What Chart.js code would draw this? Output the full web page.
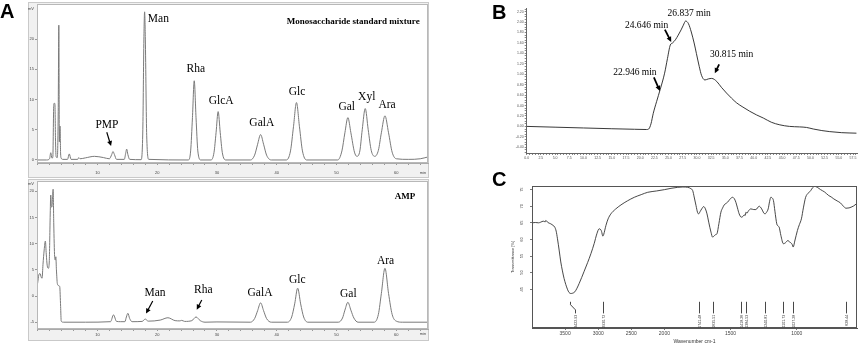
<!DOCTYPE html>
<html><head><meta charset="utf-8">
<script src="https://cdn.jsdelivr.net/npm/chart.js@4.4.1/dist/chart.umd.min.js"></script>
<style>
html,body{margin:0;padding:0;background:#fff;}
#wrap{position:relative;width:858px;height:345px;overflow:hidden;background:#fff;}
canvas{position:absolute;}
.lbl{position:absolute;font:bold 20px "Liberation Sans",Arial,sans-serif;line-height:1;color:#000;}
</style></head><body>
<div id="wrap">
<canvas id="cA1" width="430" height="178" style="left:0px;top:0px"></canvas>
<canvas id="cA2" width="430" height="167" style="left:0px;top:178px"></canvas>
<canvas id="cB" width="388" height="165" style="left:470px;top:0px"></canvas>
<canvas id="cC" width="378" height="165" style="left:480px;top:180px"></canvas>
<div class="lbl" style="left:0px;top:1px">A</div>
<div class="lbl" style="left:492px;top:2px">B</div>
<div class="lbl" style="left:492px;top:169px">C</div>
</div>
<script>
// ---------------- DATA ----------------
// Panel A (top): monosaccharide standard mixture, time (min) / signal (mV)
const stdTime = [
 0, 1.5, 2.0, 2.2, 2.4, 2.55, 2.7, 2.8, 2.9, 3.0, 3.1, 3.3,
 3.45, 3.55, 3.64, 3.75, 3.85, 3.95, 4.2, 5.0, 5.3, 5.6, 6.7, 6.9, 7.1,
 8, 9.5, 11, 12, 12.4, 12.6, 12.85, 13.2, 14.5, 14.75, 14.9, 15.1, 15.4,
 17.3, 17.6, 17.78, 17.9, 18.02, 18.25, 18.6,
 25.2, 25.6, 25.9, 26.2, 26.5, 26.8, 27.3,
 29.0, 29.5, 29.85, 30.2, 30.55, 30.9, 31.5,
 35.6, 36.3, 36.8, 37.3, 37.8, 38.3, 39.1,
 41.6, 42.3, 42.8, 43.3, 43.8, 44.3, 45.0,
 50.2, 50.9, 51.4, 51.9, 52.4, 53.0, 53.4,
 53.9, 54.3, 54.8, 55.3, 55.8, 56.4,
 57.0, 57.5, 58.1, 58.7, 59.3, 60.0, 62, 64, 65.3
];
const stdSignal = [
 0, 0, 0.2, 1.2, 0.3, 0.5, 9.0, 9.4, 9.2, 3.0, 0.5, 0.4,
 8.0, 22.3, 3.0, 5.6, 1.0, 0.3, 0.1, 0.1, 1.0, 0.1, 0.1, 0.4, 0.2,
 0.35, 0.6, 0.4, 0.2, 0.9, 1.4, 0.9, 0.1, 0.1, 1.2, 1.8, 0.9, 0.1,
 0.05, 5.0, 20.0, 24.5, 20.0, 4.0, 0.1,
 0, 1.5, 7.0, 13.1, 7.0, 1.5, 0,
 0, 1.2, 4.5, 8.0, 4.5, 1.2, 0,
 0, 0.8, 2.6, 4.2, 2.6, 0.8, 0,
 0, 1.5, 5.5, 9.5, 5.5, 1.5, 0,
 0, 1.5, 4.5, 7.0, 4.5, 1.3, 0.6,
 1.5, 5.0, 8.5, 5.0, 1.6, 0.6,
 1.6, 4.5, 7.3, 4.5, 1.3, 0.2, 0.1, 0.2, 0.5
];
// Panel A (bottom): AMP hydrolysate
const ampTime = [
 0, 0.2, 0.4, 0.6, 0.75, 0.9, 1.1, 1.3, 1.45, 1.6, 1.8, 1.95,
 2.1, 2.2, 2.3, 2.4, 2.5, 2.6, 2.7, 2.85, 2.95, 3.05, 3.15, 3.3,
 3.5, 3.7, 3.85, 3.95, 4.3, 8, 12.2, 12.7, 13.2, 13.9,
 14.6, 14.85, 15.1, 15.4, 15.8, 17.5, 18.0, 18.5, 20.5, 21.8,
 23, 23.8, 24.1, 24.6, 25.8, 26.5, 27.2, 28, 30,
 35.6, 36.3, 36.8, 37.3, 37.8, 38.3, 39.1,
 41.8, 42.5, 43.0, 43.5, 44.0, 44.5, 45.2,
 50.3, 51.0, 51.4, 51.9, 52.4, 52.9, 53.6,
 56.3, 57.0, 57.5, 58.1, 58.7, 59.3, 60.0, 61, 65.3
];
const ampSignal = [
 2.4, 4.0, 4.3, 3.6, 3.4, 6.0, 8.8, 10.5, 8.0, 5.9, 5.3, 6.5,
 15.0, 19.3, 17.0, 17.0, 19.0, 20.4, 14.0, 7.5, 6.9, 7.5, 5.0, 2.4,
 2.0, 1.8, -2.0, -4.8, -5.0, -5.0, -4.9, -3.6, -4.85, -4.9,
 -4.9, -4.0, -3.3, -4.3, -4.9, -4.85, -4.4, -4.8, -4.6, -4.15,
 -4.7, -4.75, -4.65, -4.85, -4.7, -4.0, -4.7, -5.0, -4.95,
 -5.0, -4.3, -2.8, -1.3, -2.8, -4.3, -5.0,
 -5.0, -4.0, -1.5, 1.5, -1.5, -4.0, -5.0,
 -5.0, -4.2, -2.7, -1.2, -2.7, -4.2, -5.0,
 -5.0, -3.5, 0.5, 5.3, 0.5, -3.5, -4.8, -5.0, -5.0
];
const chromXTicks = [10, 20, 30, 40, 50, 60];
const stdYTicks = [0, 5, 10, 15, 20];
const ampYTicks = [-5, 0, 5, 10, 15, 20];

// Panel B: GPC elution profile
const gpcTime = [0, 5, 10, 15, 19, 21.1, 21.5, 21.9, 22.3, 22.9, 23.5, 24.3, 24.8, 25.3, 25.7, 26.2, 26.7, 27.2, 27.6, 28.0,
 28.5, 29.0, 29.5, 29.9, 30.4, 30.8, 31.4, 32.0, 32.6, 33.5, 34.3, 35.2, 36.1, 37.0, 38.1, 39.3, 40.5, 41.7, 43.1, 44.6,
 46.3, 48.1, 49.3, 50.5, 52.0, 53.4, 55.5, 58.1];
const gpcSignal = [0.0, -0.015, -0.03, -0.045, -0.055, -0.06, -0.05, 0.05, 0.25, 0.48, 0.70, 1.02, 1.30, 1.56, 1.60, 1.66, 1.75, 1.85, 1.94, 2.02,
 1.97, 1.81, 1.60, 1.40, 1.15, 0.98, 0.89, 0.91, 0.92, 0.86, 0.75, 0.64, 0.54, 0.45, 0.37, 0.29, 0.22, 0.16, 0.08, 0.03,
 0.0, -0.01, -0.02, -0.05, -0.08, -0.10, -0.12, -0.13];
const gpcXTicks = [0, 2.5, 5, 7.5, 10, 12.5, 15, 17.5, 20, 22.5, 25, 27.5, 30, 32.5, 35, 37.5, 40, 42.5, 45, 47.5, 50, 52.5, 55, 57.5];
const gpcYTicks = [-0.4, -0.2, 0, 0.2, 0.4, 0.6, 0.8, 1.0, 1.2, 1.4, 1.6, 1.8, 2.0, 2.2];
const gpcPeakLabels = ['22.946 min', '24.646 min', '26.837 min', '30.815 min'];

// Panel C: FT-IR spectrum
const ftirWn = [
 4000, 3950, 3900, 3868, 3830, 3800, 3792, 3760, 3717, 3680,
 3656, 3635, 3615, 3590, 3565, 3540, 3515, 3465, 3440, 3415,
 3385, 3353, 3320, 3288, 3250, 3212, 3160, 3110, 3060, 3020,
 2985, 2960, 2949, 2930, 2918, 2900, 2883, 2850, 2808, 2740,
 2656, 2560, 2454, 2350, 2252, 2120, 2000, 1950, 1899, 1860,
 1824, 1800, 1786, 1775, 1761, 1750, 1741, 1730, 1718, 1703,
 1690, 1678, 1665, 1648, 1636, 1628, 1615, 1603, 1588, 1573,
 1560, 1548, 1523, 1505, 1486, 1472, 1460, 1448, 1435, 1419,
 1405, 1398, 1390, 1384, 1376, 1365, 1347, 1325, 1309, 1284,
 1265, 1250, 1240, 1228, 1216, 1205, 1196, 1186, 1176, 1165,
 1151, 1140, 1133, 1120, 1101, 1085, 1066, 1055, 1045, 1035,
 1027, 1015, 995, 980, 965, 950, 933, 912, 895, 880,
 865, 845, 820, 790, 758, 740, 720, 695, 670, 650,
 628, 605, 590, 570, 550
];
const ftirT = [
 65.0, 65.1, 65.0, 65.2, 65.5, 65.3, 65.7, 65.1, 64.7, 64.2,
 63.7, 62.5, 60.2, 56.8, 53.2, 50.5, 48.2, 45.0, 44.0, 43.7,
 43.8, 44.2, 45.3, 46.7, 48.5, 50.4, 53.0, 55.7, 58.8, 61.7,
 63.2, 62.9, 62.4, 61.0, 61.4, 62.8, 64.2, 66.2, 67.7, 69.1,
 70.4, 71.6, 72.7, 73.5, 74.2, 74.6, 75.0, 75.4, 75.7, 75.8,
 75.7, 75.3, 74.7, 72.8, 70.2, 68.2, 67.7, 68.4, 69.2, 69.9,
 69.2, 67.7, 65.2, 62.2, 60.7, 60.9, 61.4, 61.7, 64.8, 68.2,
 69.5, 70.4, 71.2, 72.1, 72.7, 72.3, 71.2, 69.5, 67.7, 66.7,
 67.0, 67.4, 67.2, 68.2, 67.9, 68.6, 69.2, 69.0, 69.0, 70.0,
 69.2, 68.0, 67.7, 68.2, 69.2, 71.5, 72.7, 72.5, 71.7, 68.5,
 64.7, 64.0, 63.7, 61.2, 58.7, 59.0, 59.7, 59.2, 59.0, 58.5,
 57.7, 59.5, 62.7, 64.5, 66.2, 69.5, 72.7, 74.0, 74.7, 75.6,
 76.0, 75.7, 75.0, 74.3, 73.2, 72.8, 72.2, 71.6, 71.0, 70.1,
 69.4, 69.5, 69.7, 70.1, 70.7
];
const ftirXTicks = [3500, 3000, 2500, 2000, 1500, 1000];
const ftirYTicks = [45, 50, 55, 60, 65, 70, 75];
const ftirPeakWn = [3422.93, 2930.72, 1741.48, 1635.51, 1418.26, 1384.53, 1240.81, 1101.73, 1027.28, 628.44];
const ftirPeakLabels = ['3422.93', '2930.72', '1741.48', '1635.51', '1418.26', '1384.53', '1240.81', '1101.73', '1027.28', '628.44'];

// ---------------- HELPERS ----------------
// FT-IR axis: scale halved above 2000 cm-1 (split scale)
const tf = w => (w > 2000 ? 2000 + (w - 2000) / 2 : w);
const isIn = (arr, v) => arr.some(t => Math.abs(t - v) < 1e-6);
const tickMarks = (a, b, step) => { const r = []; for (let v = a; v <= b + 1e-9; v += step) r.push(Math.round(v * 1000) / 1000); return r; };
const serif = '"Liberation Serif","Times New Roman",serif';
const sans = '"Liberation Sans",Arial,sans-serif';
Chart.defaults.font.family = sans;

function lineDs(xs, ys, color, width, map) {
  return { data: xs.map((x, i) => ({ x: map ? map(x) : x, y: ys[i] })), borderColor: color, borderWidth: width,
    pointRadius: 0, fill: false, cubicInterpolationMode: 'monotone' };
}
function drawArrow(ctx, x1, y1, x2, y2, w, hl) {
  const ang = Math.atan2(y2 - y1, x2 - x1), hw = hl * 0.5;
  ctx.save(); ctx.strokeStyle = '#000'; ctx.fillStyle = '#000'; ctx.lineWidth = w;
  ctx.beginPath(); ctx.moveTo(x1, y1); ctx.lineTo(x2 - hl * 0.8 * Math.cos(ang), y2 - hl * 0.8 * Math.sin(ang)); ctx.stroke();
  ctx.beginPath(); ctx.moveTo(x2, y2);
  ctx.lineTo(x2 - hl * Math.cos(ang) + hw * Math.sin(ang), y2 - hl * Math.sin(ang) - hw * Math.cos(ang));
  ctx.lineTo(x2 - hl * Math.cos(ang) - hw * Math.sin(ang), y2 - hl * Math.sin(ang) + hw * Math.cos(ang));
  ctx.closePath(); ctx.fill(); ctx.restore();
}

const ANN = {
  cA1: {
    outer: { x: 28, y: 2, w: 401, h: 176, fill: '#f1f1f1', stroke: '#c9c9c9' }, plotFill: '#fff', box: '#b8b8b8',
    texts: [
      { text: 'Monosaccharide standard mixture', x: 52.8, y: 22.9, font: 'bold 9px ' + serif },
      { text: 'Man', x: 20.2, y: 23.3, font: '11.5px ' + serif },
      { text: 'Rha', x: 26.45, y: 15.0, font: '11.5px ' + serif },
      { text: 'GlcA', x: 30.7, y: 9.8, font: '11.5px ' + serif },
      { text: 'PMP', x: 11.6, y: 5.8, font: '11.5px ' + serif },
      { text: 'GalA', x: 37.5, y: 6.1, font: '11.5px ' + serif },
      { text: 'Glc', x: 43.4, y: 11.2, font: '11.5px ' + serif },
      { text: 'Gal', x: 51.7, y: 8.7, font: '11.5px ' + serif },
      { text: 'Xyl', x: 55.05, y: 10.5, font: '11.5px ' + serif },
      { text: 'Ara', x: 58.45, y: 9.1, font: '11.5px ' + serif },
      { text: 'mV', px: 34, py: 9, font: '4px ' + sans, color: '#444', align: 'right' },
      { text: 'min', px: 423, py: 172.5, font: '4px ' + sans, color: '#444' }
    ],
    arrows: [{ x1: 11.57, y1: 4.58, x2: 12.29, y2: 2.3, w: 1.2, head: 5 }]
  },
  cA2: {
    outer: { x: 28, y: 1, w: 401, h: 162, fill: '#f1f1f1', stroke: '#c9c9c9' }, plotFill: '#fff', box: '#b8b8b8',
    texts: [
      { text: 'AMP', x: 61.45, y: 19.0, font: 'bold 9px ' + serif },
      { text: 'Man', x: 19.65, y: 0.67, font: '11.5px ' + serif },
      { text: 'Rha', x: 27.73, y: 1.24, font: '11.5px ' + serif },
      { text: 'GalA', x: 37.2, y: 0.63, font: '11.5px ' + serif },
      { text: 'Glc', x: 43.45, y: 2.98, font: '11.5px ' + serif },
      { text: 'Gal', x: 51.97, y: 0.48, font: '11.5px ' + serif },
      { text: 'Ara', x: 58.2, y: 6.69, font: '11.5px ' + serif },
      { text: 'mV', px: 34, py: 5.5, font: '4px ' + sans, color: '#444', align: 'right' },
      { text: 'min', px: 423, py: 156, font: '4px ' + sans, color: '#444' }
    ],
    arrows: [
      { x1: 19.26, y1: -0.95, x2: 18.14, y2: -3.35, w: 1.2, head: 5 },
      { x1: 27.46, y1: -0.76, x2: 26.62, y2: -2.6, w: 1.2, head: 5 }
    ]
  },
  cB: {
    texts: [
      { text: gpcPeakLabels[0], x: 19.07, y: 1.03, font: '9.5px ' + serif },
      { text: gpcPeakLabels[1], x: 21.13, y: 1.94, font: '9.5px ' + serif },
      { text: gpcPeakLabels[2], x: 28.63, y: 2.16, font: '9.5px ' + serif },
      { text: gpcPeakLabels[3], x: 36.09, y: 1.37, font: '9.5px ' + serif }
    ],
    arrows: [
      { x1: 22.41, y1: 0.94, x2: 23.47, y2: 0.68, w: 1.8, head: 5 },
      { x1: 24.35, y1: 1.855, x2: 25.46, y2: 1.62, w: 1.8, head: 5 },
      { x1: 33.91, y1: 1.19, x2: 33.15, y2: 1.02, w: 1.8, head: 5 }
    ]
  },
  cC: {
    box: '#555',
    rotY: { values: ftirYTicks, px: 41.7, font: '4px ' + sans, color: '#444' },
    markers: { wn: ftirPeakWn, labels: ftirPeakLabels, labelWn: [3350], top: 41.2, bottom: 37.7, labelTop: 37.3,
      font: '3.6px ' + sans, color: '#333' }
  }
};

const annot = {
  id: 'annot',
  beforeDraw(chart) {
    const o = ANN[chart.canvas.id]; if (!o) return;
    const ctx = chart.ctx, a = chart.chartArea;
    ctx.save();
    if (o.outer) {
      ctx.fillStyle = o.outer.fill; ctx.fillRect(o.outer.x, o.outer.y, o.outer.w, o.outer.h);
      ctx.strokeStyle = o.outer.stroke; ctx.lineWidth = 1;
      ctx.strokeRect(o.outer.x + 0.5, o.outer.y + 0.5, o.outer.w - 1, o.outer.h - 1);
    }
    if (o.plotFill) { ctx.fillStyle = o.plotFill; ctx.fillRect(a.left, a.top, a.right - a.left, a.bottom - a.top); }
    ctx.restore();
  },
  afterDraw(chart) {
    const o = ANN[chart.canvas.id]; if (!o) return;
    const ctx = chart.ctx, a = chart.chartArea, xs = chart.scales.x, ys = chart.scales.y;
    ctx.save();
    if (o.box) {
      ctx.strokeStyle = o.box; ctx.lineWidth = 1;
      ctx.strokeRect(Math.round(a.left) + 0.5, Math.round(a.top) + 0.5, Math.round(a.right - a.left) - 1, Math.round(a.bottom - a.top) - 1);
    }
    (o.texts || []).forEach(t => {
      ctx.font = t.font; ctx.fillStyle = t.color || '#000'; ctx.textAlign = t.align || 'center'; ctx.textBaseline = 'middle';
      const px = t.px !== undefined ? t.px : xs.getPixelForValue(t.x);
      const py = t.py !== undefined ? t.py : ys.getPixelForValue(t.y);
      ctx.fillText(t.text, px, py);
    });
    (o.arrows || []).forEach(r => drawArrow(ctx, xs.getPixelForValue(r.x1), ys.getPixelForValue(r.y1),
      xs.getPixelForValue(r.x2), ys.getPixelForValue(r.y2), r.w, r.head));
    if (o.rotY) {
      ctx.font = o.rotY.font; ctx.fillStyle = o.rotY.color; ctx.textAlign = 'center'; ctx.textBaseline = 'middle';
      o.rotY.values.forEach(v => {
        ctx.save(); ctx.translate(o.rotY.px, ys.getPixelForValue(v)); ctx.rotate(-Math.PI / 2);
        ctx.fillText(String(v), 0, 0); ctx.restore();
      });
    }
    if (o.markers) {
      const m = o.markers;
      ctx.strokeStyle = m.color; ctx.lineWidth = 0.9;
      m.wn.forEach((w, i) => {
        const x = Math.round(xs.getPixelForValue(tf(w))) + 0.5;
        const lx = (m.labelWn && m.labelWn[i]) ? Math.round(xs.getPixelForValue(tf(m.labelWn[i]))) + 0.5 : x;
        const y1 = ys.getPixelForValue(m.top), y2 = ys.getPixelForValue(m.bottom);
        ctx.beginPath();
        if (lx !== x) {
          const k1 = y1 + (y2 - y1) * 0.25, k2 = y1 + (y2 - y1) * 0.7;
          ctx.moveTo(x, y1); ctx.lineTo(x, k1); ctx.lineTo(lx, k2); ctx.lineTo(lx, y2);
        } else { ctx.moveTo(x, y1); ctx.lineTo(x, y2); }
        ctx.stroke();
        ctx.save(); ctx.translate(lx, ys.getPixelForValue(m.labelTop)); ctx.rotate(-Math.PI / 2);
        ctx.font = m.font; ctx.fillStyle = m.color; ctx.textAlign = 'right'; ctx.textBaseline = 'middle';
        ctx.fillText(m.labels[i], 0, 0); ctx.restore();
      });
    }
    ctx.restore();
  }
};

function baseOptions(padding, scales) {
  return {
    responsive: false, animation: false, devicePixelRatio: 1, events: [],
    layout: { autoPadding: false, padding },
    plugins: { legend: { display: false }, tooltip: { enabled: false } },
    scales
  };
}
function chromScales(yMin, yMax, yTicks, xH, xPad) {
  return {
    x: { type: 'linear', min: -0.1, max: 65.3,
      afterFit: s => { s.height = xH; },
      afterBuildTicks: s => { s.ticks = tickMarks(0, 64, 2).map(v => ({ value: v })); },
      ticks: { autoSkip: false, maxRotation: 0, minRotation: 0, padding: xPad, font: { size: 4 }, color: '#444',
        callback: v => isIn(chromXTicks, v) ? String(v) : '' },
      grid: { drawOnChartArea: false, tickLength: 2, color: '#999' }, border: { color: '#aaa' } },
    y: { type: 'linear', min: yMin, max: yMax,
      afterFit: s => { s.width = 37; },
      afterBuildTicks: s => { s.ticks = yTicks.map(v => ({ value: v })); },
      ticks: { autoSkip: false, padding: 1, font: { size: 4 }, color: '#444', callback: v => String(v) },
      grid: { drawOnChartArea: false, tickLength: 2, color: '#999' }, border: { color: '#aaa' } }
  };
}

// Panel A top
new Chart(document.getElementById('cA1'), {
  type: 'line',
  data: { datasets: [lineDs(stdTime, stdSignal, '#7a7a7a', 1)] },
  plugins: [annot],
  options: baseOptions({ left: 0, top: 4, right: 2, bottom: 0 }, chromScales(-0.5, 25.8, stdYTicks, 15, 5))
});
// Panel A bottom
new Chart(document.getElementById('cA2'), {
  type: 'line',
  data: { datasets: [lineDs(ampTime, ampSignal, '#7a7a7a', 1)] },
  plugins: [annot],
  options: baseOptions({ left: 0, top: 3, right: 2, bottom: 0 }, chromScales(-6.3, 21.9, ampYTicks, 16, 1))
});
// Panel B
new Chart(document.getElementById('cB'), {
  type: 'line',
  data: { datasets: [lineDs(gpcTime, gpcSignal, '#222', 0.9)] },
  plugins: [annot],
  options: baseOptions({ left: 0, top: 8, right: 1, bottom: 0 }, {
    x: { type: 'linear', min: 0, max: 58.2,
      afterFit: s => { s.height = 12; },
      afterBuildTicks: s => { s.ticks = tickMarks(0, 58, 0.5).map(v => ({ value: v })); },
      ticks: { autoSkip: false, maxRotation: 0, minRotation: 0, padding: 1, font: { size: 3.5 }, color: '#555',
        callback: v => isIn(gpcXTicks, v) ? v.toFixed(1) : '' },
      grid: { drawOnChartArea: false, tickLength: 2, color: '#888' }, border: { color: '#666' } },
    y: { type: 'linear', min: -0.51, max: 2.27,
      afterFit: s => { s.width = 56.7; },
      afterBuildTicks: s => { s.ticks = tickMarks(-0.5, 2.25, 0.05).map(v => ({ value: v })); },
      ticks: { autoSkip: false, padding: 1, font: { size: 3.5 }, color: '#555',
        callback: v => isIn(gpcYTicks, v) ? v.toFixed(2) : '' },
      grid: { drawOnChartArea: false, tickLength: 2, color: '#888' }, border: { color: '#666' } }
  })
});
// Panel C
new Chart(document.getElementById('cC'), {
  type: 'line',
  data: { datasets: [lineDs(ftirWn, ftirT, '#333', 0.9, tf)] },
  plugins: [annot],
  options: baseOptions({ left: 30.5, top: 6, right: 1, bottom: 0 }, {
    x: { type: 'linear', reverse: true, min: tf(545), max: tf(4000),
      afterFit: s => { s.height = 17; },
      afterBuildTicks: s => { s.ticks = ftirXTicks.map(w => ({ value: tf(w) })); },
      ticks: { autoSkip: false, maxRotation: 0, minRotation: 0, padding: 1, font: { size: 5 }, color: '#444',
        callback: (v, i) => String(ftirXTicks[i]) },
      title: { display: true, text: 'Wavenumber cm-1', font: { size: 5 }, color: '#333', padding: 0 },
      grid: { drawOnChartArea: false, tickLength: 2, color: '#777' }, border: { color: '#555' } },
    y: { type: 'linear', min: 33.3, max: 76.1,
      afterFit: s => { s.width = 21.5; },
      afterBuildTicks: s => { s.ticks = ftirYTicks.map(v => ({ value: v })); },
      ticks: { display: false },
      title: { display: true, text: 'Transmittance [%]', font: { size: 4 }, color: '#333', padding: 0 },
      grid: { drawOnChartArea: false, tickLength: 2, color: '#777' }, border: { color: '#555' } }
  })
});
</script>
</body></html>
